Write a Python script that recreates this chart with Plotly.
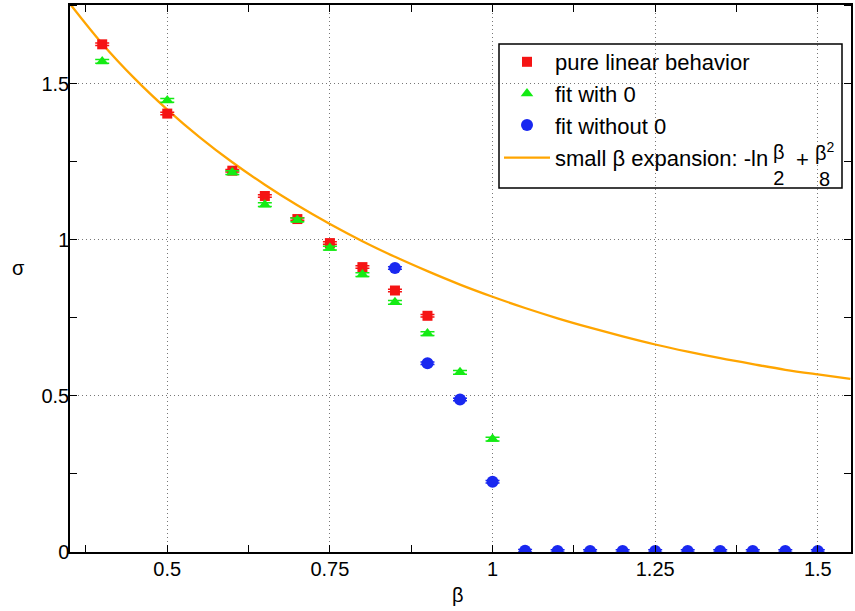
import plotly.graph_objects as go

# ---- data ----
beta_lin = [0.40, 0.50, 0.60, 0.65, 0.70, 0.75, 0.80, 0.85, 0.90]
sigma_lin = [1.627, 1.405, 1.222, 1.141, 1.067, 0.990, 0.913, 0.838, 0.757]

beta_with0 = [0.40, 0.50, 0.60, 0.65, 0.70, 0.75, 0.80, 0.85, 0.90, 0.95, 1.00]
sigma_with0 = [1.572, 1.447, 1.216, 1.113, 1.064, 0.974, 0.889, 0.800, 0.700, 0.576, 0.362]

beta_without0 = [0.85, 0.90, 0.95, 1.00, 1.05, 1.10, 1.15, 1.20, 1.25, 1.30, 1.35, 1.40, 1.45, 1.50]
sigma_without0 = [0.910, 0.605, 0.489, 0.225, 0.004, 0.003, 0.003, 0.003, 0.003, 0.003, 0.003, 0.003, 0.003, 0.003]

beta_curve = [0.35, 0.40, 0.45, 0.50, 0.55, 0.60, 0.65, 0.70, 0.75, 0.80, 0.85, 0.90, 0.95,
              1.00, 1.05, 1.10, 1.15, 1.20, 1.25, 1.30, 1.35, 1.40, 1.45, 1.50, 1.55]
sigma_curve = [1.758, 1.629, 1.517, 1.418, 1.329, 1.249, 1.177, 1.111, 1.051, 0.996, 0.946, 0.900, 0.857,
               0.818, 0.782, 0.749, 0.719, 0.691, 0.665, 0.642, 0.621, 0.602, 0.584, 0.569, 0.555]

x_ticks = [0.5, 0.75, 1.0, 1.25, 1.5]
x_ticklabels = ["0.5", "0.75", "1", "1.25", "1.5"]
y_ticks = [0, 0.5, 1.0, 1.5]
y_ticklabels = ["0", "0.5", "1", "1.5"]

FONT = "Liberation Sans, Arial, sans-serif"
RED = "rgb(245,20,20)"
GREEN = "rgb(20,235,20)"
BLUE = "rgb(25,40,240)"
ORANGE = "rgb(255,165,0)"

# plot-area geometry in pixels (for placing paper-anchored decorations)
W, H = 855, 611
L, R, T, B = 70, 4, 5, 59
PW, PH = W - L - R, H - T - B


def px(x):
    return (x - L) / PW


def py(y):
    return (H - B - y) / PH


fig = go.Figure()

fig.add_trace(go.Scatter(
    x=beta_curve, y=sigma_curve, mode="lines", line=dict(color=ORANGE, width=2.3, shape="spline"),
    name="small β expansion: -ln", legendgroup="b", legendrank=4,
))
fig.add_trace(go.Scatter(
    x=beta_lin, y=sigma_lin, mode="markers", name="pure linear behavior",
    marker=dict(symbol="square", size=10, color=RED, line=dict(width=0)),
    error_y=dict(type="constant", value=0.004, width=7, thickness=1.5, color=RED),
    legendgroup="a", legendrank=1,
))
fig.add_trace(go.Scatter(
    x=beta_with0, y=sigma_with0, mode="markers", name="fit with 0",
    marker=dict(symbol="triangle-up", size=11, color=GREEN, line=dict(width=0)),
    error_y=dict(type="constant", value=0.006, width=7, thickness=1.5, color=GREEN),
    legendgroup="a", legendrank=2,
))
fig.add_trace(go.Scatter(
    x=beta_without0, y=sigma_without0, mode="markers", name="fit without 0",
    marker=dict(symbol="circle", size=12, color=BLUE, line=dict(width=0)),
    error_y=dict(type="constant", value=0.004, width=7, thickness=1.5, color=BLUE),
    legendgroup="a", legendrank=3,
))

axis_common = dict(
    showline=True, linecolor="black", linewidth=1.5, mirror="ticks",
    ticks="", ticklen=0, showgrid=True, gridcolor="#777777", griddash="1px,3px", gridwidth=1,
    zeroline=False, tickfont=dict(family=FONT, size=20, color="black"), automargin=False,
)

fig.update_xaxes(
    range=[0.3505, 1.551], tickvals=x_ticks, ticktext=x_ticklabels,
    minor=dict(dtick=0.125, tick0=0, ticks="inside", ticklen=7, tickcolor="black", tickwidth=1, showgrid=False),
    ticklabelstandoff=-2,
    **axis_common,
)
fig.update_yaxes(
    range=[0, 1.753], tickvals=y_ticks, ticktext=y_ticklabels,
    minor=dict(dtick=0.25, tick0=0, ticks="inside", ticklen=7, tickcolor="black", tickwidth=1, showgrid=False),
    ticklabelstandoff=-5,
    **axis_common,
)

fig.update_layout(
    width=W, height=H,
    margin=dict(l=L, r=R, t=T, b=B),
    plot_bgcolor="white", paper_bgcolor="white",
    font=dict(family=FONT, size=20, color="black"),
    legend=dict(
        x=px(499), y=py(41), xanchor="left", yanchor="top",
        borderwidth=0, bgcolor="rgba(0,0,0,0)",
        font=dict(family=FONT, size=22, color="black"),
        traceorder="grouped", tracegroupgap=1, itemwidth=46,
    ),
    showlegend=True,
)

# legend frame
fig.add_shape(type="rect", xref="paper", yref="paper",
              x0=px(499), x1=px(842), y0=py(188), y1=py(44),
              line=dict(color="black", width=1.5), fillcolor="rgba(255,255,255,0)", layer="above")
# white backdrop behind legend so the grid does not show through
fig.add_shape(type="rect", xref="paper", yref="paper",
              x0=px(499), x1=px(842), y0=py(188), y1=py(44),
              line=dict(width=0), fillcolor="white", layer="below")

# fraction pieces of the legend formula (numerator over denominator, no bar)
pieces = [("β<br>2", 779, 165, 20), ("+", 802, 160, 22), ("β<sup>2</sup><br>8", 825, 165, 20)]
for txt, xx, yy, fs in pieces:
    fig.add_annotation(xref="paper", yref="paper", x=px(xx), y=py(yy), text=txt, showarrow=False,
                       xanchor="center", yanchor="middle", align="center",
                       font=dict(family=FONT, size=fs, color="black"), borderpad=0)

# axis titles
fig.add_annotation(xref="paper", yref="paper", x=px(458), y=py(595), text="β", showarrow=False,
                   xanchor="center", yanchor="middle",
                   font=dict(family=FONT, size=20, color="black"), borderpad=0)
fig.add_annotation(xref="paper", yref="paper", x=px(18), y=py(268), text="σ", showarrow=False,
                   xanchor="center", yanchor="middle",
                   font=dict(family=FONT, size=20, color="black"), borderpad=0)

fig.write_html("out.html", post_script="document.body.style.margin='0px';",
               config={"displayModeBar": False})
